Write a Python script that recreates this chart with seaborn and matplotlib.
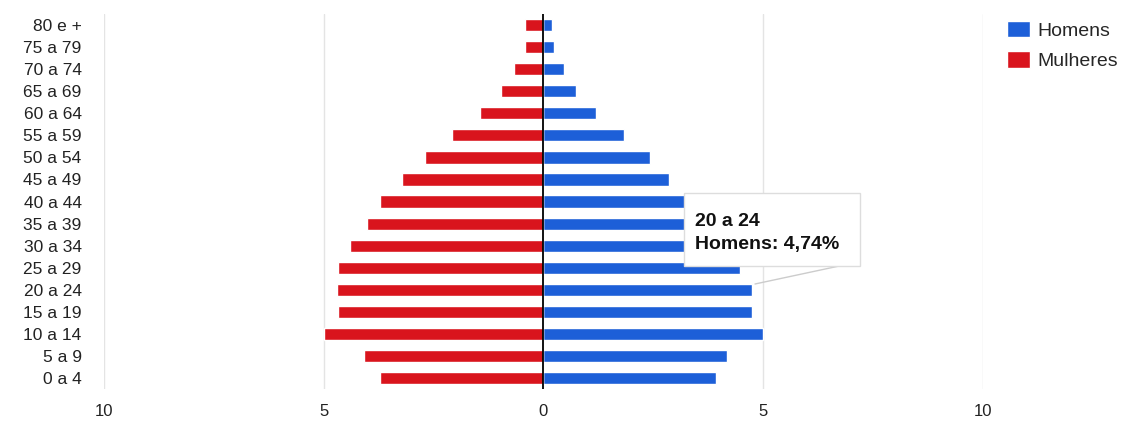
import pandas as pd
import numpy as np
import matplotlib
matplotlib.use('Agg')
import matplotlib.pyplot as plt
import seaborn as sns
from matplotlib.patches import Patch, FancyBboxPatch

# faixas etárias (de cima para baixo)
faixas = ['80 e +', '75 a 79', '70 a 74', '65 a 69', '60 a 64', '55 a 59',
          '50 a 54', '45 a 49', '40 a 44', '35 a 39', '30 a 34', '25 a 29',
          '20 a 24', '15 a 19', '10 a 14', '5 a 9', '0 a 4']

# percentuais
homens = [0.19, 0.23, 0.46, 0.75, 1.19, 1.83, 2.42, 2.85, 3.55, 3.95, 4.25,
          4.47, 4.74, 4.75, 5.00, 4.18, 3.93]
mulheres = [0.43, 0.41, 0.66, 0.96, 1.44, 2.08, 2.69, 3.22, 3.72, 4.02, 4.41,
            4.68, 4.70, 4.68, 5.00, 4.09, 3.72]

xticks = [-10, -5, 0, 5, 10]
xlabels = ['10', '5', '0', '5', '10']

df = pd.DataFrame({
    'faixa': faixas * 2,
    'valor': homens + [-v for v in mulheres],
    'sexo': ['Homens'] * len(faixas) + ['Mulheres'] * len(faixas),
})

sns.set_style('white')
plt.rcParams['font.family'] = ['Liberation Sans', 'DejaVu Sans']

fig = plt.figure(figsize=(11.24, 4.26), dpi=100)
ax = fig.add_axes([0.0925, 0.0869, 0.782, 0.880])

cores = {'Homens': '#1d5fd8', 'Mulheres': '#d9141d'}
sns.barplot(data=df, x='valor', y='faixa', hue='sexo', order=faixas,
            hue_order=['Homens', 'Mulheres'], palette=cores, dodge=False,
            width=0.55, orient='h', ax=ax, legend=False, saturation=1,
            zorder=2)

ax.set_xlim(-10, 10)
ax.set_xticks(xticks)
ax.set_xticklabels(xlabels, fontsize=12, color='#222222')
ax.tick_params(axis='y', labelsize=12.5, colors='#222222', length=0, pad=16)
ax.tick_params(axis='x', length=0, pad=11)
ax.set_xlabel('')
ax.set_ylabel('')
for s in ax.spines.values():
    s.set_visible(False)
for t in [-10, -5, 5, 10]:
    ax.axvline(t, color='#e4e4e4', lw=1, zorder=0)
ax.axvline(0, color='black', lw=1.3, zorder=3)

# legenda
handles = [Patch(facecolor=cores['Homens'], label='Homens'),
           Patch(facecolor=cores['Mulheres'], label='Mulheres')]
fig.legend(handles=handles, loc='upper left', bbox_to_anchor=(1007 / 1124, 1 - 21 / 426),
           frameon=False, fontsize=14, handlelength=1.18, handleheight=0.9,
           handletextpad=0.4, labelspacing=0.6, borderpad=0, borderaxespad=0)

# caixa de dica (tooltip)
fig.add_artist(plt.Line2D([755 / 1124, 858 / 1124], [1 - 284 / 426, 1 - 262 / 426],
                          color='#cccccc', lw=1, zorder=4))
box = FancyBboxPatch((684 / 1124, 1 - 266 / 426), 176 / 1124, 73 / 426,
                     boxstyle='square,pad=0', transform=fig.transFigure,
                     facecolor='white', edgecolor='#dddddd', lw=1, zorder=5)
fig.add_artist(box)
fig.text(695 / 1124, 1 - 226 / 426, '20 a 24', fontsize=14, fontweight='bold',
         color='#111111', zorder=6)
fig.text(695 / 1124, 1 - 249 / 426, 'Homens: 4,74%', fontsize=14,
         fontweight='bold', color='#111111', zorder=6)

fig.savefig('out.png', dpi=100)
